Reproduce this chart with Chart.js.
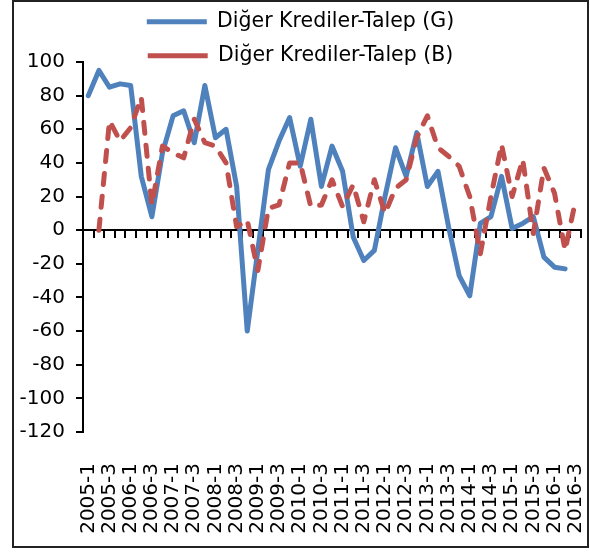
<!DOCTYPE html>
<html><head><meta charset="utf-8">
<script src="https://cdn.jsdelivr.net/npm/chart.js@4"></script>
<style>html,body{margin:0;padding:0;background:#fff}#wrap{width:590px;height:553px;position:relative}</style>
</head><body><div id="wrap"><canvas id="c" width="590" height="553"></canvas></div>
<script>
const categories = [
  '2005-1','2005-2','2005-3','2005-4','2006-1','2006-2','2006-3','2006-4',
  '2007-1','2007-2','2007-3','2007-4','2008-1','2008-2','2008-3','2008-4',
  '2009-1','2009-2','2009-3','2009-4','2010-1','2010-2','2010-3','2010-4',
  '2011-1','2011-2','2011-3','2011-4','2012-1','2012-2','2012-3','2012-4',
  '2013-1','2013-2','2013-3','2013-4','2014-1','2014-2','2014-3','2014-4',
  '2015-1','2015-2','2015-3','2015-4','2016-1','2016-2','2016-3'
];
const serieG = [80, 95, 85, 87, 86, 32, 8, 46, 68, 71, 52, 86, 55, 60, 26, -60,
  -12, 36, 53, 67, 38, 66, 26, 50, 35, -4, -18, -12, 20, 49, 32, 58,
  26, 35, 2, -27, -39, 4, 8, 32, 1, 4, 8, -16, -22, -23, null];
const serieB = [null, 0, 65, 53, 61, 79, 15, 50, 46, 43, 66, 52, 50, 40, 2, 6,
  -24, 13, 15, 40, 40, 14, 15, 30, 14, 27, 5, 30, 10, 25, 30, 55,
  68, 49, 44, 38, 20, -14, 20, 51, 20, 42, -2, 37, 22, -12, 18];
const yMin = -120, yMax = 100, yStep = 20;
const seriesNames = ['Diğer Krediler-Talep (G)', 'Diğer Krediler-Talep (B)'];

const framePlugin = {
  id: 'frame',
  afterLayout(chart) {
    const l = chart.legend;
    if (l) {
      l.left += 10; l.right += 10;
      l.height = 80; l.bottom = l.top + 80;
    }
  },
  afterDraw(chart) {
    const c = chart.ctx;
    c.save();
    c.strokeStyle = '#222';
    c.lineWidth = 2;
    c.strokeRect(13, 1, 575, 546);
    c.restore();
  }
};

new Chart(document.getElementById('c'), {
  type: 'line',
  data: {
    labels: categories,
    datasets: [
      { label: seriesNames[0], data: serieG, borderColor: '#4F81BD', backgroundColor: '#4F81BD',
        borderWidth: 5, pointRadius: 0, tension: 0, borderCapStyle: 'round', borderJoinStyle: 'round', order: 1 },
      { label: seriesNames[1], data: serieB, borderColor: '#C0504D', backgroundColor: '#C0504D',
        borderWidth: 5, pointRadius: 0, tension: 0, borderDash: [11, 12], borderCapStyle: 'round', borderJoinStyle: 'round', order: 0 }
    ]
  },
  options: {
    responsive: false,
    animation: false,
    devicePixelRatio: 1,
    layout: { padding: { left: 0, right: 9, top: -2, bottom: 0 } },
    plugins: {
      legend: {
        position: 'top',
        maxHeight: 64,
        labels: {
          usePointStyle: true, pointStyle: 'line', pointStyleWidth: 60,
          font: { family: 'DejaVu Sans', size: 20.5 }, color: '#000', padding: 13.5,
          sort: (a, b) => a.datasetIndex - b.datasetIndex
        }
      },
      tooltip: { enabled: false }
    },
    scales: {
      x: {
        type: 'category', position: 'bottom', offset: true,
        grid: { display: false }, border: { display: false },
        ticks: {
          autoSkip: false, minRotation: 90, maxRotation: 90, padding: 23, color: '#000',
          font: { family: 'DejaVu Sans', size: 20 },
          callback: (v, i) => (i % 2 === 0 ? categories[i] : '')
        },
        afterFit: (s) => { s.height = 121; s.paddingLeft = 0; s.paddingRight = 0; }
      },
      x2: {
        type: 'category', axis: 'x', position: { y: 0 }, offset: true,
        grid: { display: true, drawOnChartArea: false, drawTicks: true, tickLength: 7, color: '#000', lineWidth: 2, offset: true },
        border: { display: true, color: '#000', width: 2 },
        ticks: { display: false }
      },
      y: {
        min: yMin, max: yMax,
        ticks: { stepSize: yStep, color: '#000', font: { family: 'DejaVu Sans', size: 20 }, padding: 11 },
        grid: { drawOnChartArea: false, drawTicks: true, tickLength: 7, color: '#000', lineWidth: 2 },
        border: { color: '#000', width: 2 },
        afterFit: (s) => { s.width = 83; }
      }
    }
  },
  plugins: [framePlugin]
});
</script>
</body></html>
